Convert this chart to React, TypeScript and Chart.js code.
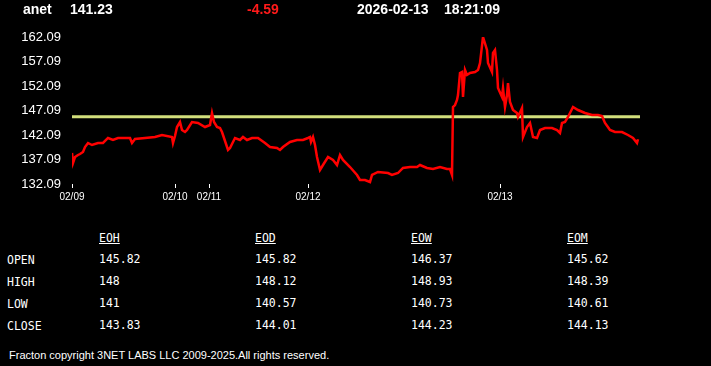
import React, { useEffect, useRef } from "react";
import { Chart, registerables } from "chart.js";

Chart.register(...registerables);

// ---------- data ----------
const symbol = "anet";
const lastPrice = "141.23";
const change = "-4.59";
const dateText = "2026-02-13";
const timeText = "18:21:09";
const openLevel = 145.82;

// intraday sample index (minutes-ish) and price
const sampleIndex = [
  0, 1, 3, 6, 8, 11, 13, 16, 20, 26, 31, 36, 41, 46, 58, 60, 63, 73, 83, 90,
  100, 101, 103, 105, 108, 110, 113, 115, 120, 126, 133, 138, 140, 142, 145, 148, 150, 151, 156, 158,
  163, 168, 171, 175, 180, 186, 193, 198, 205, 208, 211, 218, 225, 231, 236, 238, 239, 241, 243, 245,
  248, 251, 256, 261, 265, 268, 271, 278, 285, 288, 293, 298, 300, 306, 316, 320, 326, 331, 338, 345,
  348, 355, 361, 368, 375, 378, 380, 381, 383, 385, 386, 388, 390, 391, 393, 395, 398, 403, 406, 408,
  411, 415, 416, 420, 421, 423, 425, 426, 430, 431, 433, 435, 436, 438, 441, 445, 446, 450, 451, 455,
  458, 461, 465, 468, 473, 480, 485, 488, 490, 493, 496, 501, 506, 513, 520, 526, 530, 533, 538, 543,
  550, 556, 561, 565, 566,
];
const priceValues = [
  138.42, 136.38, 137.6, 138.01, 138.21, 138.62, 139.64, 140.46, 140.05, 140.46, 140.46, 141.48, 141.07, 141.48, 141.48, 140.46, 141.27, 141.48, 141.68, 142.09,
  141.68, 140.46, 141.89, 143.72, 144.74, 143.11, 142.7, 143.11, 144.74, 144.54, 143.72, 144.13, 146.58, 144.74, 143.72, 143.52, 142.7, 142.09, 139.03, 139.44,
  141.48, 141.07, 141.68, 141.07, 141.48, 141.48, 140.46, 139.64, 139.44, 139.03, 139.64, 140.66, 141.07, 141.07, 141.48, 141.68, 140.66, 141.68, 140.05, 137.6,
  134.95, 135.97, 137.6, 136.99, 135.97, 138.01, 136.99, 135.56, 133.93, 132.91, 132.91, 132.5, 133.93, 134.54, 134.33, 133.93, 134.33, 135.36, 135.56, 135.56,
  135.97, 135.36, 135.15, 135.56, 135.15, 135.15, 133.93, 147.8, 148.21, 149.23, 150.25, 154.74, 154.95, 149.85, 155.36, 154.34, 154.74, 154.95, 155.36, 156.78,
  162.09, 159.44, 156.78, 154.95, 158.83, 159.44, 155.36, 151.68, 149.85, 151.68, 147.8, 150.25, 152.7, 148.82, 147.19, 146.58, 145.76, 147.6, 141.68, 143.72,
  144.54, 141.68, 141.48, 143.11, 143.52, 143.52, 143.11, 142.5, 144.54, 144.74, 145.76, 147.8, 147.19, 146.58, 146.17, 146.17, 145.97, 144.54, 143.11, 142.7,
  142.7, 142.09, 141.48, 140.46, 141.23,
];

const xMin = 0;
const xMax = 568;
const xTickValues = [0, 103, 137, 236, 428];
const xTickLabels = ["02/09", "02/10", "02/11", "02/12", "02/13"];
const yTickValues = [132.09, 137.09, 142.09, 147.09, 152.09, 157.09, 162.09];

const columnHeaders = ["EOH", "EOD", "EOW", "EOM"];
const rowLabels = ["OPEN", "HIGH", "LOW", "CLOSE"];
const eohValues = ["145.82", "148", "141", "143.83"];
const eodValues = ["145.82", "148.12", "140.57", "144.01"];
const eowValues = ["146.37", "148.93", "140.73", "144.23"];
const eomValues = ["145.62", "148.39", "140.61", "144.13"];
const footerText = "Fracton copyright 3NET LABS LLC 2009-2025.All rights reserved.";

// ---------- layout / style ----------
const SANS = "'Liberation Sans', Arial, sans-serif";
const MONO = "'DejaVu Sans Mono', 'Liberation Mono', monospace";
const columnX = [99, 255, 411, 567];
const rowY = [258, 280, 302, 324];

function PriceChart() {
  const ref = useRef<HTMLCanvasElement | null>(null);
  useEffect(() => {
    if (!ref.current) return;
    const pts = sampleIndex.map((x, i) => ({ x, y: priceValues[i] }));
    const chart = new Chart(ref.current, {
      type: "line",
      data: {
        datasets: [
          {
            data: pts,
            borderColor: "#ff0000",
            borderWidth: 2.5,
            pointRadius: 0,
            tension: 0,
            order: 0,
          },
          {
            data: [
              { x: xMin, y: openLevel },
              { x: xMax, y: openLevel },
            ],
            borderColor: "#d2df7c",
            borderWidth: 3,
            pointRadius: 0,
            order: 1,
          },
        ],
      },
      options: {
        responsive: false,
        animation: false,
        events: [],
        layout: { padding: { left: 0, right: 71, top: 37, bottom: 0 } },
        plugins: { legend: { display: false }, tooltip: { enabled: false } },
        scales: {
          x: {
            type: "linear",
            min: xMin,
            max: xMax,
            grid: {
              display: true,
              drawOnChartArea: false,
              drawTicks: true,
              tickLength: 4,
              color: "#ffffff",
              lineWidth: 1,
            },
            border: { display: false },
            afterBuildTicks: (scale: any) => {
              scale.ticks = xTickValues.map((v) => ({ value: v }));
            },
            afterFit: (scale: any) => {
              scale.height = 31;
            },
            ticks: {
              color: "#ffffff",
              font: { family: SANS, size: 10 },
              padding: 3,
              maxRotation: 0,
              autoSkip: false,
              callback: (v: any) => {
                const i = xTickValues.indexOf(Number(v));
                return i >= 0 ? xTickLabels[i] : "";
              },
            },
          },
          y: {
            type: "linear",
            min: yTickValues[0],
            max: yTickValues[yTickValues.length - 1],
            grid: { display: false, drawTicks: false },
            border: { display: false },
            afterBuildTicks: (scale: any) => {
              scale.ticks = yTickValues.map((v) => ({ value: v }));
            },
            afterFit: (scale: any) => {
              scale.width = 72;
            },
            ticks: {
              color: "#ffffff",
              font: { family: SANS, size: 13 },
              padding: 11,
              callback: (v: any) => Number(v).toFixed(2),
            },
          },
        },
      },
    });
    return () => chart.destroy();
  }, []);
  return (
    <canvas
      ref={ref}
      width={711}
      height={215}
      style={{ position: "absolute", left: 0, top: 0, width: 711, height: 215 }}
    />
  );
}

function Txt(props: { x: number; y: number; children: any; style?: any }) {
  return (
    <div
      style={{
        position: "absolute",
        left: props.x,
        top: props.y,
        whiteSpace: "pre",
        lineHeight: "16px",
        ...props.style,
      }}
    >
      {props.children}
    </div>
  );
}

export default function App() {
  const valueCols = [eohValues, eodValues, eowValues, eomValues];
  const head = { fontFamily: SANS, fontWeight: "bold", fontSize: 14, color: "#ffffff" };
  const mono = { fontFamily: MONO, fontSize: 11.5, color: "#ffffff" };
  return (
    <div
      style={{
        position: "fixed",
        left: 0,
        top: 0,
        width: 711,
        height: 366,
        background: "#000000",
        overflow: "hidden",
      }}
    >
      <PriceChart />
      <Txt x={23} y={1} style={head}>{symbol}</Txt>
      <Txt x={70} y={1} style={head}>{lastPrice}</Txt>
      <Txt x={247} y={1} style={{ ...head, color: "#ff1a1a" }}>{change}</Txt>
      <Txt x={357} y={1} style={head}>{dateText}</Txt>
      <Txt x={444} y={1} style={head}>{timeText}</Txt>

      {columnHeaders.map((h, c) => (
        <Txt key={h} x={columnX[c]} y={238 - 8} style={{ ...mono, textDecoration: "underline" }}>
          {h}
        </Txt>
      ))}
      {rowLabels.map((r, i) => (
        <Txt key={r} x={7} y={rowY[i] + 2 - 8} style={mono}>
          {r}
        </Txt>
      ))}
      {valueCols.map((col, c) =>
        col.map((v, i) => (
          <Txt key={c + "-" + i} x={columnX[c]} y={rowY[i] + 1 - 8} style={mono}>
            {v}
          </Txt>
        ))
      )}
      <Txt x={9} y={355 - 8} style={{ fontFamily: SANS, fontSize: 11, color: "#ffffff" }}>
        {footerText}
      </Txt>
    </div>
  );
}
